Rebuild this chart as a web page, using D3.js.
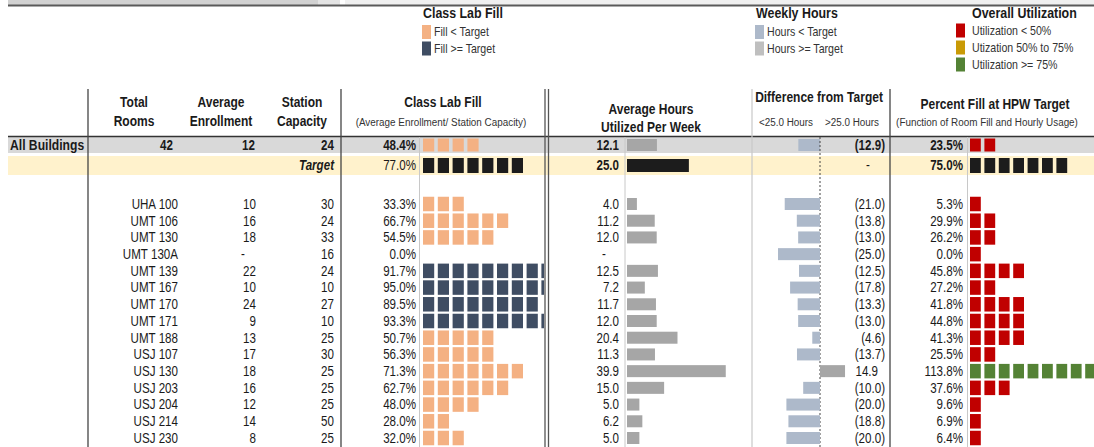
<!DOCTYPE html>
<html>
<head>
<meta charset="utf-8">
<script src="https://cdn.jsdelivr.net/npm/d3@7"></script>
<style>
  body { margin: 0; background: #fff; }
  svg { display: block; font-family: "Liberation Sans", Arial, sans-serif; }
</style>
</head>
<body>
<svg id="chart"></svg>
<script>
// room rows
const buildings  = ["UHA 100", "UMT 106", "UMT 130", "UMT 130A", "UMT 139", "UMT 167", "UMT 170", "UMT 171",
                    "UMT 188", "USJ 107", "USJ 130", "USJ 203", "USJ 204", "USJ 214", "USJ 230"];
const enrollment = [10, 16, 18, null, 22, 10, 24, 9, 13, 17, 18, 16, 12, 14, 8];
const capacity   = [30, 24, 33, 16, 24, 10, 27, 10, 25, 30, 25, 25, 25, 50, 25];
const fillPct    = [33.3, 66.7, 54.5, 0.0, 91.7, 95.0, 89.5, 93.3, 50.7, 56.3, 71.3, 62.7, 48.0, 28.0, 32.0];
const hours      = [4.0, 11.2, 12.0, null, 12.5, 7.2, 11.7, 12.0, 20.4, 11.3, 39.9, 15.0, 5.0, 6.2, 5.0];
const hoursDiff  = [-21.0, -13.8, -13.0, -25.0, -12.5, -17.8, -13.3, -13.0, -4.6, -13.7, 14.9, -10.0, -20.0, -18.8, -20.0];
const hpwPct     = [5.3, 29.9, 26.2, 0.0, 45.8, 27.2, 41.8, 44.8, 41.3, 25.5, 113.8, 37.6, 9.6, 6.9, 6.4];

// summary + target rows
const allBuildings = { rooms: 42, enroll: 12, cap: 24, fill: 48.4, hours: 12.1, diff: -12.9, hpw: 23.5 };
const targets      = { fill: 77.0, hours: 25.0, hpw: 75.0 };

const W = 1094, H = 447;
const svg = d3.select("#chart").attr("width", W).attr("height", H);

const C = {
  text: "#1a1a1a", orange: "#f4b183", navy: "#3f4d63", grayBar: "#a6a6a6", blueBar: "#adb9ca",
  red: "#c00000", amber: "#c99a06", green: "#548235", black: "#1c1c1c",
  band: "#d9d9d9", cream: "#fff2cc", rule: "#333"
};

// no narrow font installed, so squeeze text horizontally like Arial Narrow
const SQ = 0.84;
function label(parent, x, y, s, o) {
  o = o || {};
  return parent.append("text")
    .attr("transform", `translate(${x},${y}) scale(${o.sx || SQ},1)`)
    .attr("dy", o.dy == null ? "0.35em" : o.dy)
    .attr("text-anchor", o.anchor || "end")
    .attr("font-size", o.size || 13.8)
    .attr("font-weight", o.bold ? "bold" : null)
    .attr("font-style", o.italic ? "italic" : null)
    .attr("fill", o.fill || C.text)
    .text(s);
}

// scales
const y = d3.scalePoint().domain(buildings).range([204, 438]);
const fillX  = d3.scaleLinear().domain([0, 100]).range([423, 571]);
const hoursX = d3.scaleLinear().domain([0, 40]).range([627, 726]);
const diffX  = d3.scaleLinear().domain([-25, 25]).range([778, 862]);
const hpwX   = d3.scaleLinear().domain([0, 100]).range([970, 1114]);
const pct = v => d3.format(".1f")(v) + "%";
const diffFmt = v => v < 0 ? "(" + d3.format(".1f")(-v) + ")" : d3.format(".1f")(v);

// clip for the lab fill squares (they run under the double rule)
svg.append("clipPath").attr("id", "fillClip").append("rect")
  .attr("x", 420).attr("y", 0).attr("width", 124).attr("height", H);
svg.append("clipPath").attr("id", "pageClip").append("rect")
  .attr("x", 0).attr("y", 0).attr("width", W).attr("height", H);

// top banner remnants
svg.append("rect").attr("x", 8).attr("y", 0).attr("width", 310).attr("height", 5).attr("fill", "#d2d2d2");
svg.append("rect").attr("x", 318).attr("y", 0).attr("width", 22).attr("height", 5).attr("fill", "#e4e4e4");
svg.append("rect").attr("x", 345).attr("y", 0).attr("width", W - 345).attr("height", 5).attr("fill", "#f0f0f0");
svg.append("line").attr("x1", 8).attr("x2", W).attr("y1", 5.5).attr("y2", 5.5)
  .attr("stroke", "#5a5a5a").attr("stroke-width", 2);

// legends
function legend(x, swX, txX, title, items, y0, step) {
  const g = svg.append("g");
  label(g, x, 13, title, { anchor: "start", bold: true, size: 13.8, sx: 0.9 });
  items.forEach((it, i) => {
    const cy = y0 + i * step;
    g.append("rect").attr("x", swX).attr("y", cy - 7).attr("width", 9).attr("height", 14).attr("fill", it.c);
    label(g, txX, cy, it.t, { anchor: "start", size: 12.2, sx: 0.87, fill: "#333" });
  });
}
legend(423, 422, 434, "Class Lab Fill", [{ t: "Fill < Target", c: C.orange }, { t: "Fill >= Target", c: C.navy }], 32, 16.5);
legend(756, 755, 767, "Weekly Hours", [{ t: "Hours < Target", c: C.blueBar }, { t: "Hours >= Target", c: "#bfbfbf" }], 32, 16.5);
legend(972, 956, 972, "Overall Utilization", [{ t: "Utilization < 50%", c: C.red }, { t: "Utization 50% to 75%", c: C.amber },
  { t: "Utilization >= 75%", c: C.green }], 30.5, 17);

// row bands
svg.append("rect").attr("x", 8).attr("y", 137).attr("width", W - 8).attr("height", 16).attr("fill", C.band);
svg.append("rect").attr("x", 8).attr("y", 156).attr("width", W - 8).attr("height", 19).attr("fill", C.cream);
svg.append("line").attr("x1", 8).attr("x2", W).attr("y1", 136.5).attr("y2", 136.5).attr("stroke", C.rule).attr("stroke-width", 1.3);

// header labels
const head = svg.append("g");
[
  [134, 102, "Total"], [134, 121, "Rooms"],
  [221, 102, "Average"], [221, 121, "Enrollment"],
  [302, 102, "Station"], [302, 121, "Capacity"],
  [443, 102, "Class Lab Fill"],
  [651, 109, "Average Hours"], [651, 127, "Utilized Per Week"],
  [819, 97, "Difference from Target"],
  [995, 104, "Percent Fill at HPW Target"]
].forEach(d => label(head, d[0], d[1], d[2], { anchor: "middle", bold: true, size: 13.8, sx: 0.87 }));
const sub = svg.append("g");
[[441, 122, "(Average Enrollment/ Station Capacity)"], [786, 122, "<25.0 Hours"], [852, 122, ">25.0 Hours"],
 [987, 122, "(Function of Room Fill and Hourly Usage)"]]
  .forEach(d => label(sub, d[0], d[1], d[2], { anchor: "middle", size: 11.5, sx: 0.86, fill: "#333" }));

// vertical rules
const vr = (x, y1, y2, col, w, dash) => svg.append("line").attr("x1", x).attr("x2", x).attr("y1", y1).attr("y2", y2)
  .attr("stroke", col).attr("stroke-width", w).attr("stroke-dasharray", dash || null);
vr(88, 89, H, "#444", 1.3);
vr(341, 89, H, "#444", 1.3);
vr(545, 89, H, "#555", 1.3);
vr(548.5, 89, H, "#555", 1.3);
vr(752, 89, H, "#c8c8c8", 1.2);
vr(890, 89, H, "#444", 1.3);
vr(419.5, 137, H, "#c8c8c8", 1);
vr(625, 137, H, "#c8c8c8", 1);
vr(967.5, 137, H, "#c8c8c8", 1);

// helpers for square runs
function squares(g, xs, n, cy, h, color, clip) {
  const step = xs(10) - xs(0);
  g.append("g").attr("clip-path", clip).selectAll("rect").data(d3.range(n)).join("rect")
    .attr("x", k => xs(k * 10)).attr("y", cy - h / 2)
    .attr("width", step - 3.6).attr("height", h).attr("fill", color);
}
const fillCount = v => Math.floor(v / 10);
const hpwCount = v => Math.max(1, Math.floor(v / 10));
const hpwColor = v => v < 50 ? C.red : v < 75 ? C.amber : C.green;

const T = svg.append("g");
const txt = (x, cy, s, o) => label(T, x, cy, s, o);

// All Buildings row
const yA = 145, yT = 165.5;
const B = { bold: true };
txt(10, yA, "All Buildings", { anchor: "start", bold: true, sx: 0.88 });
txt(173, yA, allBuildings.rooms, B);
txt(255, yA, allBuildings.enroll, B);
txt(334, yA, allBuildings.cap, B);
txt(416, yA, pct(allBuildings.fill), B);
squares(svg, fillX, fillCount(allBuildings.fill), yA, 13, allBuildings.fill < targets.fill ? C.orange : C.navy, "url(#fillClip)");
txt(619, yA, d3.format(".1f")(allBuildings.hours), B);
svg.append("rect").attr("x", hoursX(0)).attr("y", yA - 6).attr("width", hoursX(allBuildings.hours) - hoursX(0))
  .attr("height", 12).attr("fill", C.grayBar);
svg.append("rect").attr("x", diffX(allBuildings.diff)).attr("y", yA - 6).attr("width", diffX(0) - diffX(allBuildings.diff))
  .attr("height", 12).attr("fill", C.blueBar);
txt(885, yA, diffFmt(allBuildings.diff), B);
txt(963, yA, pct(allBuildings.hpw), B);
squares(svg, hpwX, hpwCount(allBuildings.hpw), yA, 13, hpwColor(allBuildings.hpw), "url(#pageClip)");

// Target row
txt(334, yT, "Target", { bold: true, italic: true });
txt(416, yT, pct(targets.fill));
squares(svg, fillX, fillCount(targets.fill), yT, 15, C.black, "url(#fillClip)");
txt(619, yT, d3.format(".1f")(targets.hours), B);
svg.append("rect").attr("x", hoursX(0)).attr("y", yT - 6.5).attr("width", hoursX(targets.hours) - hoursX(0))
  .attr("height", 13).attr("fill", C.black);
txt(868, yT, "-", { anchor: "middle" });
txt(963, yT, pct(targets.hpw), B);
squares(svg, hpwX, hpwCount(targets.hpw), yT, 15, C.black, "url(#pageClip)");

// dashed zero line of the difference column
vr(diffX(0), 137, H, "#444", 1, "2,2");

// room rows
buildings.forEach((b, i) => {
  const cy = y(b);
  txt(178, cy, b);
  if (enrollment[i] == null) txt(243, cy, "-", { anchor: "middle" }); else txt(256, cy, enrollment[i]);
  txt(334, cy, capacity[i]);
  txt(416, cy, pct(fillPct[i]));
  squares(svg, fillX, fillCount(fillPct[i]), cy, 14.5, fillPct[i] < targets.fill ? C.orange : C.navy, "url(#fillClip)");
  if (hours[i] == null) txt(604, cy, "-", { anchor: "middle" });
  else {
    txt(619, cy, d3.format(".1f")(hours[i]));
    svg.append("rect").attr("x", hoursX(0)).attr("y", cy - 6).attr("width", hoursX(hours[i]) - hoursX(0))
      .attr("height", 12).attr("fill", C.grayBar);
  }
  const d = hoursDiff[i];
  svg.append("rect").attr("x", diffX(Math.min(0, d))).attr("y", cy - 6)
    .attr("width", Math.abs(diffX(d) - diffX(0))).attr("height", 12)
    .attr("fill", d < 0 ? C.blueBar : C.grayBar);
  txt(d < 0 ? 885 : 878, cy, diffFmt(d));
  txt(963, cy, pct(hpwPct[i]));
  squares(svg, hpwX, hpwCount(hpwPct[i]), cy, 14.5, hpwColor(hpwPct[i]), "url(#pageClip)");
});
</script>
</body>
</html>
